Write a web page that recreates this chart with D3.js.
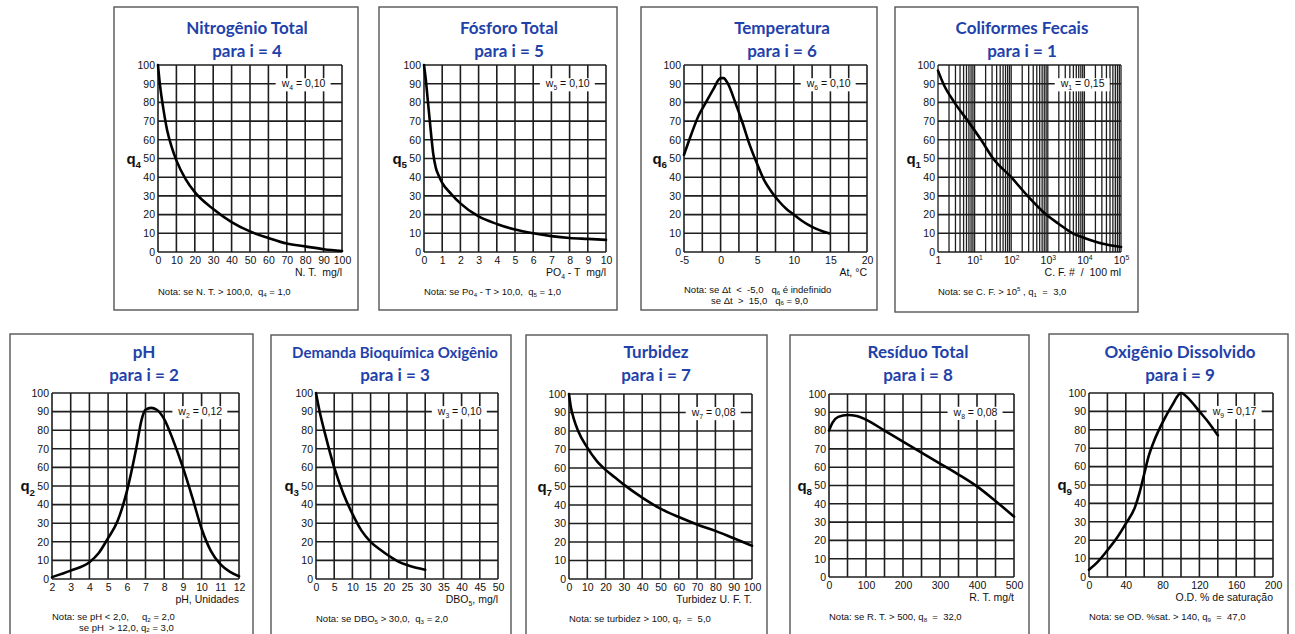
<!DOCTYPE html>
<html>
<head>
<meta charset="utf-8" />
<title>Curvas de qualidade - IQA</title>
<style>
  html, body { margin: 0; background: #fff; }
  svg text { font-family: "Liberation Sans", Arial, sans-serif; white-space: pre; fill: #111; }
  svg text.titulo { font-family: Lato, "Open Sans", sans-serif; font-weight: bold; fill: #1f42aa; }
</style>
</head>
<body>
<svg id="chart" width="1295" height="634"></svg>
<script src="https://cdn.jsdelivr.net/npm/d3@7"></script>
<script>
// curvas: [x, q]
var nitrogenio = [[0,100],[1,90],[3,76],[5,65],[7.5,56],[10,49],[15,39],[20,32],[30,23],[40,16],[50,11],[60,7.5],[70,4.5],[80,3],[90,1.5],[100,0.5]];
var fosforo = [[0,100],[0.1,92],[0.2,82],[0.3,72],[0.4,62],[0.5,53],[0.65,45],[0.8,41],[1,37],[1.5,31],[2,26],[3,19],[4,15],[5,12],[6,10],[7,8.5],[8,7.5],[9,7],[10,6.5]];
var temperatura = [[-5,52],[-4,63],[-3,73],[-2,80],[-1,87],[0,93],[0.4,93],[1,90],[2,80],[3,69],[4,57],[5,47],[6,38],[7,32],[8,27],[9,23],[10,20],[11,17],[12,14.5],[13,12.5],[14,11],[14.8,10]];
var coliformes = [[1,97],[1.4,90],[2.8,80],[6.6,70],[15,60],[32,50],[100,40],[280,30],[900,20],[2000,15],[4800,10],[10000,7.5],[30000,4.5],[100000,2.7]];
var ph = [[2,1],[3,4.5],[4,9],[4.5,14],[5,22],[5.5,31],[6,47],[6.5,70],[6.8,86],[7,91],[7.3,92],[7.6,91],[8,86],[8.5,74],[9,60],[9.5,44],[10,27],[10.5,15],[11,8],[11.5,4],[12,1.5]];
var dbo = [[0,100],[1,90],[2.5,78],[5,60],[7.5,46],[10,35],[12.5,26],[15,20],[17.5,16],[20,12.5],[22.5,9.5],[25,7.5],[27.5,6],[30,5]];
var turbidez = [[0,100],[1,93],[2.5,87],[5,80],[10,71],[15,64],[20,59],[25,55],[30,51],[40,44],[50,38],[60,33.5],[70,29.5],[80,26],[90,22],[100,18]];
var residuo = [[0,80],[10,84.5],[25,87.5],[50,88.5],[75,88],[100,86],[150,80],[200,74],[250,68],[300,62],[350,56],[400,49.5],[450,41.5],[500,33]];
var oxigenio = [[0,4],[10,8.5],[20,14.5],[30,21],[40,29],[50,38],[55,46],[60,56],[65,66],[70,73],[80,84],[90,93],[100,100],[110,96],[120,90],[130,84],[140,77]];

// rotulos dos eixos
var qRotulos = [0,10,20,30,40,50,60,70,80,90,100];
var nitroRotulos = [0,10,20,30,40,50,60,70,80,90,100];
var fosforoRotulos = [0,1,2,3,4,5,6,7,8,9,10];
var tempRotulos = [-5,0,5,10,15,20];
var coliRotulos = [1,10,100,1000,10000,100000];
var coliTextos = ["1","10^{1}","10^{2}","10^{3}","10^{4}","10^{5}"];
var phRotulos = [2,3,4,5,6,7,8,9,10,11,12];
var dboRotulos = [0,5,10,15,20,25,30,35,40,45,50];
var turbRotulos = [0,10,20,30,40,50,60,70,80,90,100];
var residuoRotulos = [0,100,200,300,400,500];
var odRotulos = [0,40,80,120,160,200];

var paineis = [
  { titulo: "Nitrogênio Total", i: 4, w: "0,10", dados: nitrogenio, rot: nitroRotulos, dom: [0,100], passo: 10,
    eixo: "N. T.  mg/l", nota: ["Nota: se N. T. > 100,0,  q_{4} = 1,0"],
    box: [114,7,358,310], area: [158,65,342,252], tx: 247, ty: 34 },
  { titulo: "Fósforo Total", i: 5, w: "0,10", dados: fosforo, rot: fosforoRotulos, dom: [0,10], passo: 1,
    eixo: "PO_{4} - T  mg/l", nota: ["Nota: se Po_{4} - T > 10,0,  q_{5} = 1,0"],
    box: [379,7,617,310], area: [424,65,606,252], tx: 509, ty: 34 },
  { titulo: "Temperatura", i: 6, w: "0,10", dados: temperatura, rot: tempRotulos, dom: [-5,20], passo: 2.5,
    eixo: "At, °C", nota: ["Nota: se \u0394t  <  -5,0   q_{6} é indefinido", "se \u0394t  >  15,0   q_{6} = 9,0"],
    box: [641,7,877,310], area: [684,65,867,252], tx: 782, ty: 34 },
  { titulo: "Coliformes Fecais", i: 1, w: "0,15", dados: coliformes, rot: coliRotulos, textos: coliTextos, dom: [1,100000], log: true,
    eixo: "C. F. #  /  100 ml", nota: ["Nota: se C. F. > 10^{5} , q_{1}  =  3,0"],
    box: [895,7,1138,312], area: [938,65,1121,252], tx: 1022, ty: 34 },
  { titulo: "pH", i: 2, w: "0,12", dados: ph, rot: phRotulos, dom: [2,12], passo: 1,
    eixo: "pH, Unidades", nota: ["Nota: se pH < 2,0,     q_{2} = 2,0", "se pH  > 12,0, q_{2} = 3,0"],
    box: [10,334,253,650], area: [52,393,239,579], tx: 144, ty: 358 },
  { titulo: "Demanda Bioquímica Oxigênio", tam: 15, i: 3, w: "0,10", dados: dbo, rot: dboRotulos, dom: [0,50], passo: 5,
    eixo: "DBO_{5}, mg/l", nota: ["Nota: se DBO_{5} > 30,0,  q_{3} = 2,0"],
    box: [271,335,511,650], area: [316,393,498,579], tx: 395, ty: 358 },
  { titulo: "Turbidez", i: 7, w: "0,08", dados: turbidez, rot: turbRotulos, dom: [0,100], passo: 10,
    eixo: "Turbidez U. F. T.", nota: ["Nota: se turbidez > 100, q_{7}  =  5,0"],
    box: [526,335,767,650], area: [569,394,752,579], tx: 656, ty: 358 },
  { titulo: "Resíduo Total", i: 8, w: "0,08", dados: residuo, rot: residuoRotulos, dom: [0,500], passo: 50,
    eixo: "R. T. mg/t", nota: ["Nota: se R. T. > 500, q_{8}  =  32,0"],
    box: [790,335,1029,650], area: [829,394,1014,577], tx: 918, ty: 358 },
  { titulo: "Oxigênio Dissolvido", i: 9, w: "0,17", dados: oxigenio, rot: odRotulos, dom: [0,200], passo: 20,
    eixo: "O.D. % de saturação", nota: ["Nota: se OD. %sat. > 140, q_{9}  =  47,0"],
    box: [1049,334,1288,650], area: [1089,393,1273,577], tx: 1180, ty: 358 }
];

var svg = d3.select("#chart");

// escreve texto com _{sub} e ^{sup}
function rico(el, str, tam, desce) {
  var desloc = 0;
  desce = desce || 0.3;
  str.split(/(_\{[^}]*\}|\^\{[^}]*\})/).forEach(function(p) {
    if (!p) return;
    var t = el.append("tspan");
    if (p[0] === "_" || p[0] === "^") {
      var d = p[0] === "_" ? tam * desce : -tam * 0.4;
      t.attr("dy", d - desloc).attr("font-size", tam * 0.65).text(p.slice(2, -1));
      desloc = d;
    } else {
      if (desloc) t.attr("dy", -desloc);
      t.text(p);
      desloc = 0;
    }
  });
}

paineis.forEach(function(p) {
  var g = svg.append("g");
  var L = p.area[0], T = p.area[1], R = p.area[2], B = p.area[3];

  g.append("rect")
      .attr("x", p.box[0]).attr("y", p.box[1])
      .attr("width", p.box[2] - p.box[0]).attr("height", p.box[3] - p.box[1])
      .attr("fill", "none").attr("stroke", "#555").attr("stroke-width", 1.4);

  g.append("text").attr("class", "titulo").attr("x", p.tx).attr("y", p.ty)
      .attr("font-size", p.tam || 17)
      .attr("text-anchor", "middle").text(p.titulo);
  g.append("text").attr("class", "titulo").attr("x", p.tx).attr("y", p.ty + 23)
      .attr("font-size", 17)
      .attr("text-anchor", "middle").text("para i = " + p.i);

  var x = (p.log ? d3.scaleLog() : d3.scaleLinear()).domain(p.dom).range([L, R]);
  var y = d3.scaleLinear().domain([0, 100]).range([B, T]);

  // grade
  var gx;
  if (p.log) {
    gx = [];
    for (var e = 0; e < 5; e++) for (var k = 1; k < 10; k++) gx.push(k * Math.pow(10, e));
    gx.push(100000);
  } else {
    gx = d3.range(p.dom[0], p.dom[1] + 1e-9, p.passo);
  }
  var grade = g.append("g").attr("stroke", "#1e1e1e").attr("stroke-width", 1.6);
  grade.selectAll(".v").data(gx).join("line")
      .attr("stroke-width", p.log ? 1.3 : null)
      .attr("x1", function(d) { return x(d); }).attr("x2", function(d) { return x(d); })
      .attr("y1", T).attr("y2", B);
  grade.selectAll(".h").data(qRotulos).join("line")
      .attr("x1", L).attr("x2", R)
      .attr("y1", function(d) { return y(d); }).attr("y2", function(d) { return y(d); });

  // eixos (so rotulos)
  var ay = g.append("g").attr("transform", "translate(" + L + ",0)")
      .call(d3.axisLeft(y).tickValues(qRotulos).tickSize(0).tickPadding(3));
  var ax = g.append("g").attr("transform", "translate(0," + B + ")")
      .call(d3.axisBottom(x).tickValues(p.rot).tickSize(0).tickPadding(5)
        .tickFormat(function(d, j) { return p.textos ? p.textos[j] : String(d); }));
  [ay, ax].forEach(function(a) {
    a.select(".domain").remove();
    a.attr("font-family", null).attr("font-size", 10.5);
    a.selectAll("text").attr("fill", null).each(function() {
      var el = d3.select(this), s = el.text();
      el.text("");
      rico(el, s, 10.5);
    });
  });

  // peso w
  var wt = g.append("text").attr("x", L + 0.91 * (R - L)).attr("y", y(90) + 3.5)
      .attr("text-anchor", "end").attr("font-size", 10.5);
  rico(wt, "w_{" + p.i + "} = " + p.w, 10.5);
  var bb = wt.node().getBBox();
  g.insert("rect", function() { return wt.node(); })
      .attr("x", bb.x - 5).attr("y", bb.y + 1).attr("width", bb.width + 10).attr("height", bb.height - 1)
      .attr("fill", "#fff");

  // rotulo q
  var ql = g.append("text").attr("x", L - 17).attr("y", y(50) + 5)
      .attr("text-anchor", "end").attr("font-weight", "bold").attr("font-size", 15);
  rico(ql, "q_{" + p.i + "}", 15);

  // titulo do eixo x
  var xt = g.append("text").attr("x", R).attr("y", B + 24)
      .attr("text-anchor", "end").attr("font-size", 10.5);
  rico(xt, p.eixo, 10.5);

  // nota
  p.nota.forEach(function(n, j) {
    var nt = g.append("text").attr("x", L + (j ? 27 : 0)).attr("y", B + (p.nota.length > 1 ? 41 : 43) + j * 10.5)
        .attr("font-size", 9.5);
    rico(nt, n, 9.5, 0.2);
  });

  // curva
  g.append("path").datum(p.dados)
      .attr("fill", "none").attr("stroke", "#000").attr("stroke-width", 2.6)
      .attr("stroke-linejoin", "round").attr("stroke-linecap", "round")
      .attr("d", d3.line().curve(d3.curveMonotoneX)
        .x(function(d) { return x(d[0]); })
        .y(function(d) { return y(d[1]); }));
});
</script>
</body>
</html>
